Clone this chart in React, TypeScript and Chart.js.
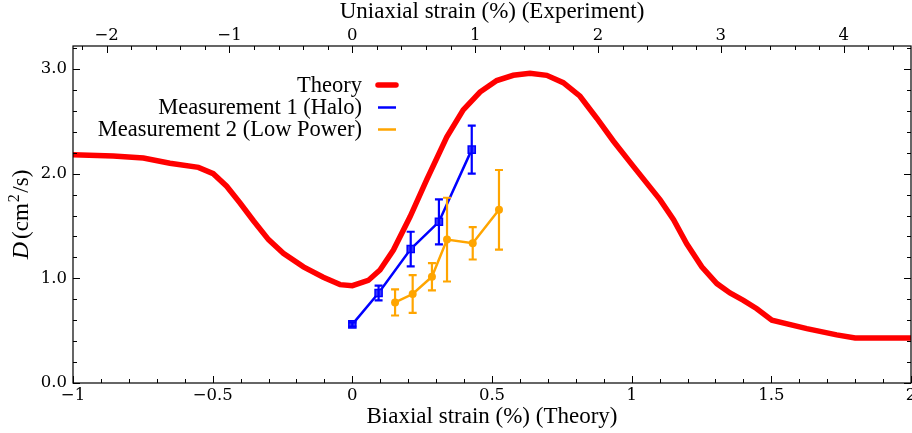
import React, { useEffect, useRef } from 'react';
import { Chart, registerables } from 'chart.js';

Chart.register(...registerables);

// ---- Data ----
const theoryStrain = [-1.0, -0.856, -0.748, -0.653, -0.551, -0.498, -0.45, -0.402, -0.354, -0.3, -0.247, -0.175, -0.104, -0.044, 0.0, 0.057, 0.099, 0.147, 0.207, 0.266, 0.338, 0.397, 0.457, 0.517, 0.576, 0.636, 0.696, 0.755, 0.815, 0.875, 0.935, 1.006, 1.102, 1.15, 1.197, 1.251, 1.305, 1.352, 1.4, 1.448, 1.502, 1.627, 1.734, 1.8, 2.0];
const theoryD = [2.18, 2.17, 2.15, 2.1, 2.06, 2.0, 1.88, 1.72, 1.55, 1.37, 1.24, 1.11, 1.01, 0.94, 0.93, 0.98, 1.08, 1.27, 1.59, 1.94, 2.35, 2.61, 2.78, 2.89, 2.94, 2.96, 2.94, 2.87, 2.74, 2.53, 2.31, 2.07, 1.75, 1.56, 1.33, 1.11, 0.95, 0.86, 0.79, 0.71, 0.6, 0.52, 0.46, 0.43, 0.43];

const haloStrain = [0.0, 0.094, 0.209, 0.31, 0.4275];
const haloD = [0.56, 0.86, 1.28, 1.54, 2.23];
const haloErr = [0.02, 0.07, 0.165, 0.215, 0.23];

const lowStrain = [0.153, 0.216, 0.285, 0.339, 0.431, 0.525];
const lowD = [0.77, 0.85, 1.015, 1.37, 1.335, 1.655];
const lowErr = [0.125, 0.18, 0.13, 0.4, 0.155, 0.38];

const legendLabels = ['Theory', 'Measurement 1 (Halo)', 'Measurement 2 (Low Power)'];
const colors = ['#ff0000', '#0000ff', '#ffa500'];

const bottomMin = -1;
const bottomMax = 2;
const uniaxialPerBiaxial = 2.274;
const yMin = 0;
const yMax = 3.22;

const TEXT_FONT = "'Liberation Serif', 'DejaVu Serif', serif";
const TICK_FONT = "'DejaVu Serif', 'Liberation Serif', serif";
const TICK_SIZE = 16.5;

const fmtNum = (v: number, digits = 0) => {
  const s = digits > 0 ? v.toFixed(digits) : String(Math.round(v * 1000) / 1000);
  return s.replace('-', '\u2212');
};

const errors: Record<number, number[]> = { 1: haloErr, 2: lowErr };

const noPadding = () => ({ left: 0, top: 0, right: 0, bottom: 0 });

const errorBarPlugin = {
  id: 'errorBars',
  afterDatasetDraw(chart: any, args: any) {
    const errs = errors[args.index];
    if (!errs) return;
    const ds = chart.data.datasets[args.index];
    const ctx = chart.ctx;
    const xs = chart.scales.x;
    const ys = chart.scales.y;
    ctx.save();
    ctx.strokeStyle = ds.borderColor;
    ctx.lineWidth = 2.2;
    ds.data.forEach((p: any, i: number) => {
      const px = xs.getPixelForValue(p.x);
      const top = ys.getPixelForValue(p.y + errs[i]);
      const bot = ys.getPixelForValue(p.y - errs[i]);
      ctx.beginPath();
      ctx.moveTo(px, top);
      ctx.lineTo(px, bot);
      ctx.moveTo(px - 4, top);
      ctx.lineTo(px + 4, top);
      ctx.moveTo(px - 4, bot);
      ctx.lineTo(px + 4, bot);
      ctx.stroke();
    });
    ctx.restore();
  },
};

const frameTicksPlugin = {
  id: 'frameTicks',
  afterDraw(chart: any) {
    const { ctx, chartArea: a } = chart;
    const xs = chart.scales.x;
    const xt = chart.scales.x2;
    const ys = chart.scales.y;
    ctx.save();
    ctx.strokeStyle = '#000';
    ctx.lineWidth = 1.2;
    ctx.strokeRect(a.left, a.top, a.right - a.left, a.bottom - a.top);
    ctx.lineWidth = 1;
    const major = 7;
    const minor = 4;
    const line = (x1: number, y1: number, x2: number, y2: number) => {
      ctx.beginPath();
      ctx.moveTo(x1, y1);
      ctx.lineTo(x2, y2);
      ctx.stroke();
    };
    for (let k = Math.ceil(bottomMin * 10); k <= Math.floor(bottomMax * 10); k++) {
      const px = Math.round(xs.getPixelForValue(k / 10)) + 0.5;
      line(px, a.bottom, px, a.bottom - (k % 5 === 0 ? major : minor));
    }
    for (let k = Math.ceil(xt.min * 5); k <= Math.floor(xt.max * 5); k++) {
      const px = Math.round(xt.getPixelForValue(k / 5)) + 0.5;
      line(px, a.top, px, a.top + (k % 5 === 0 ? major : minor));
    }
    for (let k = Math.ceil(yMin * 5); k <= Math.floor(yMax * 5); k++) {
      const py = Math.round(ys.getPixelForValue(k / 5)) + 0.5;
      const len = k % 5 === 0 ? major : minor;
      line(a.left, py, a.left + len, py);
      line(a.right, py, a.right - len, py);
    }

    // last bottom tick label (drawn here so it may run off the canvas edge)
    const items = typeof xs.getLabelItems === 'function' ? xs.getLabelItems() : [];
    const ref = items.find((it: any) => it.label === '0');
    ctx.fillStyle = '#000';
    ctx.font = `${TICK_SIZE}px ${TICK_FONT}`;
    ctx.textAlign = 'center';
    if (ref) {
      ctx.textBaseline = ref.options.textBaseline;
      ctx.fillText(fmtNum(bottomMax), xs.getPixelForValue(bottomMax), ref.options.translation[1] + (ref.textOffset || 0));
    } else {
      ctx.textBaseline = 'top';
      ctx.fillText(fmtNum(bottomMax), xs.getPixelForValue(bottomMax), a.bottom + 3);
    }

    // y title with italic D and superscript 2
    ctx.translate(20.5, (a.top + a.bottom) / 2);
    ctx.rotate(-Math.PI / 2);
    ctx.textBaseline = 'alphabetic';
    ctx.textAlign = 'left';
    const italic = `italic 24px ${TEXT_FONT}`;
    const normal = `23px ${TEXT_FONT}`;
    const small = `16px ${TEXT_FONT}`;
    const parts: [string, string, number, number][] = [
      ['D', italic, 0, 3],
      ['(cm', normal, 0, 1],
      ['2', small, -9, 1.5],
      ['/s)', normal, 0, 0],
    ];
    let total = 0;
    parts.forEach(([t, f, , gap]) => {
      ctx.font = f;
      total += ctx.measureText(t).width + gap;
    });
    let x = -total / 2;
    parts.forEach(([t, f, dy, gap]) => {
      ctx.font = f;
      ctx.fillText(t, x, 7.5 + dy);
      x += ctx.measureText(t).width + gap;
    });
    ctx.restore();

    // legend
    ctx.save();
    ctx.font = `22.5px ${TEXT_FONT}`;
    ctx.fillStyle = '#000';
    ctx.textAlign = 'right';
    ctx.textBaseline = 'middle';
    const rows = [85, 107.5, 129.5];
    const widths = [5.5, 2.5, 2.5];
    legendLabels.forEach((t, i) => {
      ctx.fillText(t, 362, rows[i] + 1);
      ctx.strokeStyle = colors[i];
      ctx.lineWidth = widths[i];
      ctx.lineCap = i === 0 ? 'round' : 'butt';
      ctx.beginPath();
      ctx.moveTo(378, rows[i]);
      ctx.lineTo(396, rows[i]);
      ctx.stroke();
    });
    ctx.restore();
  },
};

export default function App() {
  const ref = useRef<HTMLCanvasElement | null>(null);

  useEffect(() => {
    if (!ref.current) return;
    const tickFont = { family: TICK_FONT, size: TICK_SIZE };
    const titleFont = { family: TEXT_FONT, size: 23, lineHeight: 1 };
    const chart = new Chart(ref.current, {
      type: 'scatter',
      data: {
        datasets: [
          {
            label: legendLabels[0],
            data: theoryStrain.map((x, i) => ({ x, y: theoryD[i] })),
            showLine: true,
            borderColor: colors[0],
            backgroundColor: colors[0],
            borderWidth: 5.5,
            pointRadius: 0,
            tension: 0,
            order: 3,
          },
          {
            label: legendLabels[1],
            data: haloStrain.map((x, i) => ({ x, y: haloD[i] })),
            showLine: true,
            borderColor: colors[1],
            backgroundColor: colors[1],
            borderWidth: 2.5,
            pointStyle: 'rect',
            pointRadius: 5,
            pointBorderWidth: 1.5,
            pointBackgroundColor: '#3a3aff',
            pointBorderColor: colors[1],
            tension: 0,
            order: 2,
          },
          {
            label: legendLabels[2],
            data: lowStrain.map((x, i) => ({ x, y: lowD[i] })),
            showLine: true,
            borderColor: colors[2],
            backgroundColor: colors[2],
            borderWidth: 2.5,
            pointStyle: 'circle',
            pointRadius: 4,
            pointBorderWidth: 0,
            tension: 0,
            order: 1,
          },
        ],
      },
      options: {
        animation: false,
        responsive: false,
        maintainAspectRatio: false,
        layout: { autoPadding: false, padding: { left: 0, right: 1, top: 0, bottom: 0 } },
        plugins: {
          legend: { display: false },
          tooltip: { enabled: false },
        },
        scales: {
          x: {
            type: 'linear',
            position: 'bottom',
            min: bottomMin,
            max: bottomMax,
            grid: { display: false, drawTicks: false },
            border: { display: false },
            ticks: {
              stepSize: 0.5,
              includeBounds: false,
              autoSkip: false,
              maxRotation: 0,
              padding: 3,
              color: '#000',
              font: tickFont,
              callback: (v: any) => (Number(v) === bottomMax ? '' : fmtNum(Number(v))),
            },
            title: {
              display: true,
              text: 'Biaxial strain (%) (Theory)',
              color: '#000',
              font: titleFont,
              padding: { top: 0, bottom: 4.5 },
            },
            afterFit: (s: any) => {
              s.height = 50;
              s.paddingLeft = 0;
              s.paddingRight = 0;
              s.getPadding = noPadding;
            },
          },
          x2: {
            type: 'linear',
            position: 'top',
            min: bottomMin * uniaxialPerBiaxial,
            max: bottomMax * uniaxialPerBiaxial,
            grid: { display: false, drawTicks: false },
            border: { display: false },
            ticks: {
              stepSize: 1,
              includeBounds: false,
              autoSkip: false,
              maxRotation: 0,
              padding: 0,
              color: '#000',
              font: tickFont,
              callback: (v: any) => fmtNum(Number(v)),
            },
            title: {
              display: true,
              text: 'Uniaxial strain (%) (Experiment)',
              color: '#000',
              font: titleFont,
              padding: { top: 0.5, bottom: 0 },
            },
            afterFit: (s: any) => {
              s.height = 46;
              s.paddingLeft = 0;
              s.paddingRight = 0;
              s.getPadding = noPadding;
            },
          },
          y: {
            type: 'linear',
            position: 'left',
            min: yMin,
            max: yMax,
            grid: { display: false, drawTicks: false },
            border: { display: false },
            ticks: {
              stepSize: 1,
              includeBounds: false,
              autoSkip: false,
              padding: 6,
              color: '#000',
              font: tickFont,
              callback: (v: any) => fmtNum(Number(v), 1),
            },
            afterFit: (s: any) => {
              s.width = 73;
              s.paddingTop = 0;
              s.paddingBottom = 0;
              s.getPadding = noPadding;
            },
          },
        },
      },
      plugins: [errorBarPlugin, frameTicksPlugin],
    } as any);
    return () => chart.destroy();
  }, []);

  return (
    <div style={{ position: 'fixed', left: 0, top: 0, width: 912, height: 433, background: '#fff' }}>
      <canvas ref={ref} width={912} height={433} style={{ display: 'block' }} />
    </div>
  );
}
